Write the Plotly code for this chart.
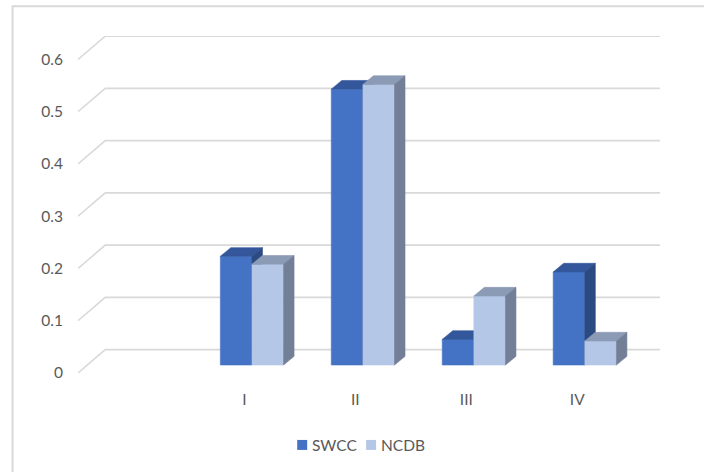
import plotly.graph_objects as go

# ---- data -------------------------------------------------------------
categories = ["", "I", "II", "III", "IV"]
swcc = [None, 0.208, 0.528, 0.049, 0.178]
ncdb = [None, 0.193, 0.537, 0.132, 0.046]
y_ticks = [0, 0.1, 0.2, 0.3, 0.4, 0.5, 0.6]
y_tick_text = ["0", "0.1", "0.2", "0.3", "0.4", "0.5", "0.6"]
series_names = ["SWCC", "NCDB"]

# ---- pseudo-3D geometry (in axis units) -------------------------------
FLOOR_DX, FLOOR_DY = 0.2457, 0.0447       # depth of the floor / back wall
BAR_SHIFT_X, BAR_SHIFT_Y = 0.068, 0.0153  # bars sit part way into the depth
BAR_DX, BAR_DY = 0.0945, 0.0166           # depth of each bar
BAR_W = 0.285

GRID = "#d9d9d9"
TEXT = "#595959"
FONT = "Lato"

# per series: values, side of the category centre, front/top/side colours
series = [
    (swcc, -1, "#4472c4", "#33579a", "#2c4a82"),
    (ncdb, 0, "#b4c7e7", "#8b9bb6", "#737f96"),
]

fig = go.Figure()

# back wall gridlines with the diagonal floor/wall edge on the left
n = len(categories)
gx, gy = [], []
for v in y_ticks:
    gx += [-0.5, -0.5 + FLOOR_DX, n - 0.5 + FLOOR_DX, None]
    gy += [v, v + FLOOR_DY, v + FLOOR_DY, None]
fig.add_trace(go.Scatter(x=gx, y=gy, mode="lines",
                         line=dict(color=GRID, width=1.6),
                         hoverinfo="skip", showlegend=False))


def poly(xs, ys, color, edge=None):
    fig.add_trace(go.Scatter(
        x=xs + [xs[0]], y=ys + [ys[0]], mode="lines", fill="toself",
        fillcolor=color, line=dict(color=edge or color, width=0.6),
        hoverinfo="skip", showlegend=False))


# bars, painted back-to-front (left series first within each group)
for i in range(n):
    for vals, side, c_front, c_top, c_side in series:
        v = vals[i]
        if v is None:
            continue
        c = i + BAR_SHIFT_X
        x0 = c + side * BAR_W
        x1 = x0 + BAR_W
        b = BAR_SHIFT_Y
        t = BAR_SHIFT_Y + v
        # front face
        poly([x0, x1, x1, x0], [b, b, t, t], c_front)
        # top face
        poly([x0, x1, x1 + BAR_DX, x0 + BAR_DX],
             [t, t, t + BAR_DY, t + BAR_DY], c_top)
        # right side face
        poly([x1, x1 + BAR_DX, x1 + BAR_DX, x1],
             [b, b + BAR_DY, t + BAR_DY, t], c_side)


def px_x(p):
    return (p - 77.5) / 582.8


def px_y(p):
    return (373 - p) / 337.3


# compact legend below the plot: colour square followed by the series name
legend_square_left = [297, 366]
for name, (vals, side, c_front, c_top, c_side), sq in zip(
        series_names, series, legend_square_left):
    fig.add_shape(type="rect", xref="paper", yref="paper",
                  x0=px_x(sq), x1=px_x(sq + 10),
                  y0=px_y(450), y1=px_y(440),
                  fillcolor=c_front, line=dict(width=0))
    fig.add_annotation(xref="paper", yref="paper",
                       x=px_x(sq + 13), y=px_y(445),
                       xanchor="left", yanchor="middle", showarrow=False,
                       text=name, font=dict(family=FONT, size=15.5, color=TEXT))

# outer chart border
fig.add_shape(type="rect", xref="paper", yref="paper",
              x0=-0.1124, x1=1.1847, y0=-0.33, y1=1.088,
              line=dict(color=GRID, width=2), layer="below")

fig.update_layout(
    width=704, height=472,
    margin=dict(l=77.5, r=43.7, t=35.7, b=99),
    paper_bgcolor="white", plot_bgcolor="white",
    font=dict(family=FONT, size=15.5, color=TEXT),
    xaxis=dict(range=[-0.5, n - 0.5 + FLOOR_DX],
               tickvals=list(range(n)), ticktext=categories,
               showgrid=False, zeroline=False, showline=False,
               ticks="", ticklabelstandoff=15, fixedrange=True),
    yaxis=dict(range=[0, 0.645], tickvals=y_ticks, ticktext=y_tick_text,
               showgrid=False, zeroline=False, showline=False,
               ticks="", ticklabelstandoff=14, fixedrange=True),
    showlegend=False,
    hovermode=False,
)

fig.write_html("out.html")
